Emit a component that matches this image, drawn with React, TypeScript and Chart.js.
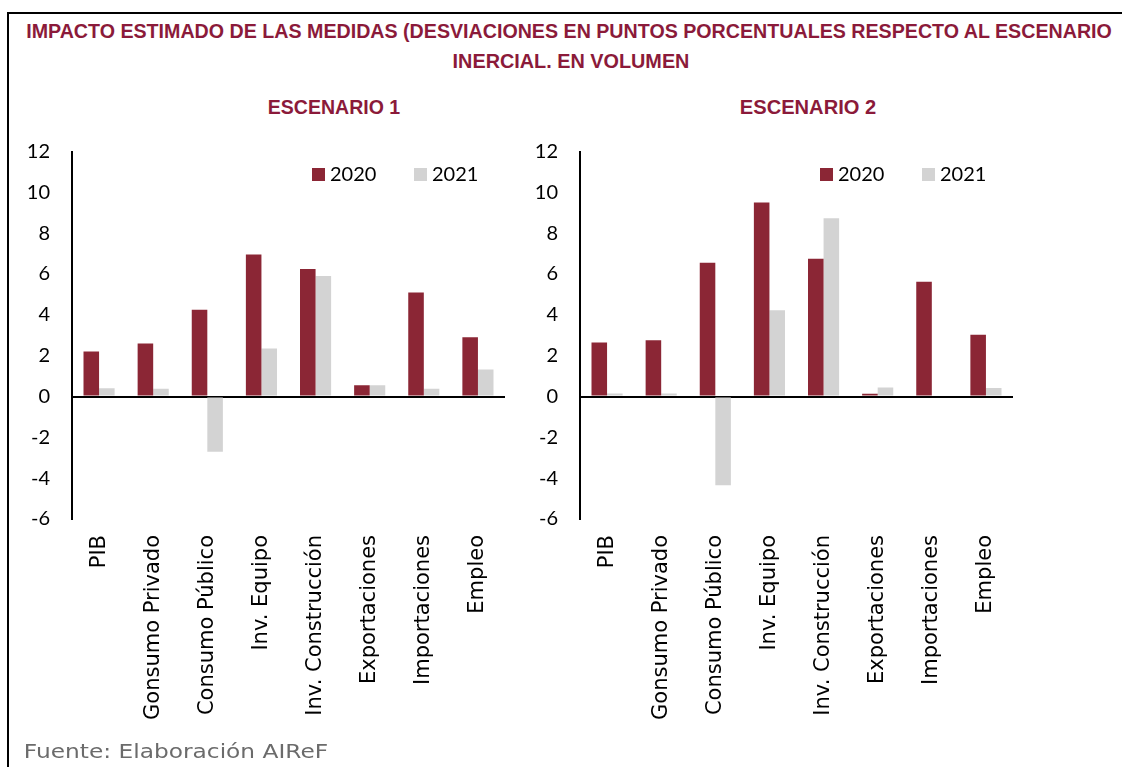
import React, { useEffect, useLayoutEffect, useRef, useState } from "react";
import { Chart, registerables } from "chart.js";

Chart.register(...registerables);

const categories = [
  "PIB",
  "Gonsumo Privado",
  "Consumo Público",
  "Inv. Equipo",
  "Inv. Construcción",
  "Exportaciones",
  "Importaciones",
  "Empleo",
];
const seriesLabels = ["2020", "2021"];
const esc1_2020 = [2.2, 2.6, 4.25, 6.95, 6.25, 0.55, 5.1, 2.9];
const esc1_2021 = [0.4, 0.38, -2.7, 2.35, 5.9, 0.55, 0.38, 1.32];
const esc2_2020 = [2.65, 2.75, 6.55, 9.5, 6.75, 0.13, 5.62, 3.02];
const esc2_2021 = [0.15, 0.15, -4.35, 4.22, 8.73, 0.44, 0.05, 0.42];
const yMin = -6;
const yMax = 12;
const yStep = 2;

const COLOR_2020 = "#8B2635";
const COLOR_2021 = "#D3D3D3";
const TITLE_COLOR = "#8B1A3A";

const cornerLegend = {
  id: "cornerLegend",
  afterDraw(chart: any) {
    const { ctx, chartArea } = chart;
    const offsets = [-193, -91];
    ctx.save();
    chart.data.datasets.forEach((ds: any, i: number) => {
      const x = chartArea.right + offsets[i];
      const y = chartArea.top + 16.5;
      ctx.fillStyle = ds.backgroundColor;
      ctx.fillRect(x, y, 13, 13);
      ctx.fillStyle = "#000";
      ctx.font = "20px Lato";
      ctx.textBaseline = "middle";
      ctx.textAlign = "left";
      ctx.fillText(ds.label, x + 18, y + 7);
    });
    ctx.restore();
  },
};

function BarChart({ d2020, d2021, left, top }: { d2020: number[]; d2021: number[]; left: number; top: number }) {
  const ref = useRef<HTMLCanvasElement>(null);
  useEffect(() => {
    const chart = new Chart(ref.current!, {
      type: "bar",
      data: {
        labels: categories,
        datasets: [
          { label: seriesLabels[0], data: d2020, backgroundColor: COLOR_2020, categoryPercentage: 0.575, barPercentage: 1 },
          { label: seriesLabels[1], data: d2021, backgroundColor: COLOR_2021, categoryPercentage: 0.575, barPercentage: 1 },
        ],
      },
      options: {
        responsive: false,
        animation: false,
        devicePixelRatio: 1,
        layout: { padding: { left: 0, right: 15, top: 11.5, bottom: 0 } },
        plugins: { legend: { display: false }, tooltip: { enabled: false } },
        scales: {
          x: {
            grid: { display: false, drawTicks: false },
            border: { display: false },
            ticks: {
              maxRotation: 90,
              minRotation: 90,
              autoSkip: false,
              padding: 16,
              color: "#000",
              font: { family: "'DejaVu Sans'", size: 21 },
            },
            afterFit: (s: any) => {
              s.height = 241;
              s.paddingLeft = 0;
              s.paddingRight = 0;
            },
          },
          y: {
            min: yMin,
            max: yMax,
            ticks: { stepSize: yStep, padding: 22, color: "#000", font: { family: "Lato", size: 20 } },
            grid: {
              drawTicks: false,
              color: (c: any) => (c.tick && c.tick.value === 0 ? "#000" : "rgba(0,0,0,0)"),
              lineWidth: 2,
            },
            border: { display: true, color: "#000", width: 2 },
            afterFit: (s: any) => {
              s.width = 72;
              s.paddingTop = 0;
              s.paddingBottom = 0;
            },
          },
        },
      } as any,
      plugins: [cornerLegend],
    });
    return () => chart.destroy();
  }, []);
  return (
    <canvas
      ref={ref}
      width={520}
      height={620}
      style={{ position: "absolute", left, top, width: 520, height: 620 }}
    />
  );
}

function FitText({
  text,
  cx,
  cy,
  width,
  style,
}: {
  text: string;
  cx: number;
  cy: number;
  width: number;
  style: React.CSSProperties;
}) {
  const ref = useRef<HTMLSpanElement>(null);
  const [sx, setSx] = useState(1);
  useLayoutEffect(() => {
    if (ref.current) {
      const w = ref.current.offsetWidth;
      if (w > 0) setSx(width / w);
    }
  }, [text, width]);
  return (
    <span
      ref={ref}
      style={{
        position: "absolute",
        left: cx,
        top: cy,
        whiteSpace: "nowrap",
        display: "inline-block",
        lineHeight: 1,
        transformOrigin: "50% 50%",
        transform: `translate(-50%, -50%) scaleX(${sx})`,
        ...style,
      }}
    >
      {text}
    </span>
  );
}

const titleStyle: React.CSSProperties = {
  fontFamily: "'Liberation Sans Narrow', 'Liberation Sans', sans-serif",
  fontWeight: 700,
  fontSize: 21,
  color: TITLE_COLOR,
};

export default function App() {
  return (
    <div
      style={{
        position: "fixed",
        left: 0,
        top: 0,
        width: 1122,
        height: 767,
        background: "#fff",
        overflow: "hidden",
      }}
    >
      <div
        style={{
          position: "absolute",
          left: 7,
          top: 12,
          width: 1140,
          height: 800,
          borderLeft: "2px solid #000",
          borderTop: "2px solid #000",
        }}
      />
      <FitText
        text="IMPACTO ESTIMADO DE LAS MEDIDAS (DESVIACIONES EN PUNTOS PORCENTUALES RESPECTO AL ESCENARIO"
        cx={569}
        cy={30}
        width={1086}
        style={titleStyle}
      />
      <FitText text="INERCIAL. EN VOLUMEN" cx={571} cy={60} width={237} style={titleStyle} />
      <FitText text="ESCENARIO 1" cx={334} cy={106} width={132} style={titleStyle} />
      <FitText text="ESCENARIO 2" cx={808} cy={106} width={136} style={titleStyle} />
      <BarChart d2020={esc1_2020} d2021={esc1_2021} left={0} top={140} />
      <BarChart d2020={esc2_2020} d2021={esc2_2021} left={508} top={140} />
      <FitText
        text="Fuente: Elaboración AIReF"
        cx={176}
        cy={751}
        width={304}
        style={{ fontFamily: "'DejaVu Sans', sans-serif", fontSize: 19, color: "#6b6b6b" }}
      />
    </div>
  );
}
